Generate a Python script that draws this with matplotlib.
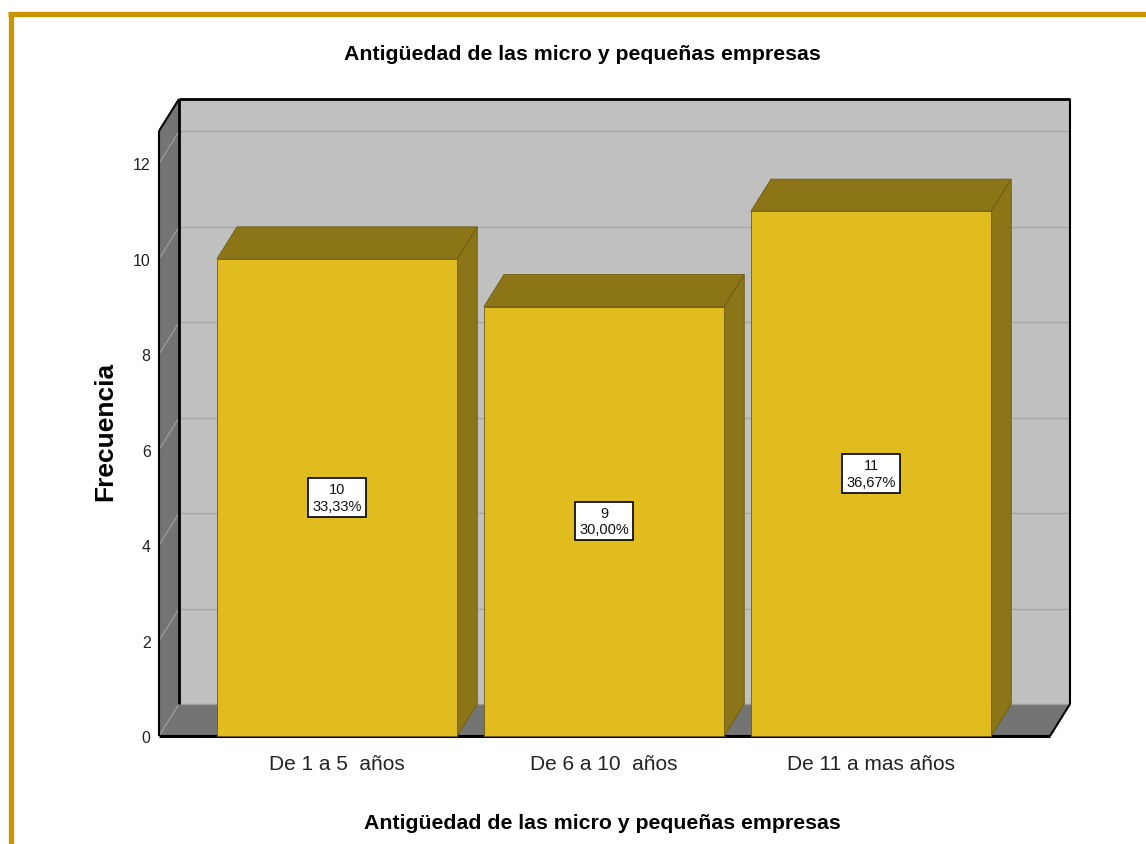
import matplotlib
matplotlib.use("Agg")
import matplotlib.pyplot as plt
from matplotlib.patches import Polygon, Rectangle
from matplotlib.lines import Line2D

plt.rcParams['font.family'] = ['Liberation Sans', 'DejaVu Sans']

# ------------------------------------------------------------------
# datos
# ------------------------------------------------------------------
categorias = ["De 1 a 5  años", "De 6 a 10  años", "De 11 a mas años"]
frecuencias = [10, 9, 11]
porcentajes = ["33,33%", "30,00%", "36,67%"]
y_ticks = [0, 2, 4, 6, 8, 10, 12]
titulo = "Antigüedad de las micro y pequeñas empresas"

# ------------------------------------------------------------------
# estilo (pseudo 3D tipo SPSS)
# ------------------------------------------------------------------
C_FRENTE = "#E0BC1F"
C_SOMBRA = "#8B7516"
C_BORDE_BARRA = "#6E5C10"
C_FONDO = "#C0C0C0"
C_PARED = "#747474"
C_GRID = "#A8A8A8"
C_MARCO = "#C89600"

XMIN, XMAX = -0.667, 2.67
YMAX = 12.68
DX, DY = 0.075, 0.671     # profundidad en unidades de datos
ANCHO = 0.9

fig = plt.figure(figsize=(11.46, 8.45), dpi=100)
ax = fig.add_axes([0.13874, 0.12781, 0.77749, 0.71598])
ax.set_xlim(XMIN, XMAX)
ax.set_ylim(0, YMAX)
ax.set_facecolor("none")
for s in ax.spines.values():
    s.set_visible(False)


def poly(pts, fc, ec="none", lw=0, z=1):
    ax.add_patch(Polygon(pts, closed=True, facecolor=fc, edgecolor=ec,
                         linewidth=lw, zorder=z, clip_on=False))


def linea(xs, ys, color="black", lw=1.5, z=3):
    ax.plot(xs, ys, color=color, lw=lw, zorder=z, clip_on=False,
            solid_capstyle="butt")


# pared del fondo
ax.add_patch(Rectangle((XMIN + DX, DY), XMAX - XMIN, YMAX, facecolor=C_FONDO,
                       edgecolor="none", zorder=0, clip_on=False))
# pared izquierda
poly([(XMIN, 0), (XMIN + DX, DY), (XMIN + DX, YMAX + DY), (XMIN, YMAX)], C_PARED)
# piso
poly([(XMIN, 0), (XMAX, 0), (XMAX + DX, DY), (XMIN + DX, DY)], C_PARED)

# rejilla
for t in y_ticks:
    if t > 0:
        linea([XMIN + DX, XMAX + DX], [t + DY, t + DY], color=C_GRID, lw=1, z=1.5)
    linea([XMIN, XMIN + DX], [t, t + DY], color="#A0A0A0", lw=0.8, z=1.5)

# bordes de la caja
linea([XMIN + DX, XMAX + DX], [YMAX + DY, YMAX + DY], lw=2)
linea([XMAX + DX, XMAX + DX], [DY, YMAX + DY], lw=1.5)
linea([XMIN + DX, XMIN + DX], [DY, YMAX + DY], lw=2)
linea([XMIN, XMIN + DX], [YMAX, YMAX + DY], lw=1.5)
linea([XMIN, XMIN], [0, YMAX], lw=1.5)
linea([XMIN, XMAX], [0, 0], lw=2.2)
linea([XMAX, XMAX + DX], [0, DY], lw=1.5)
linea([XMIN + DX, XMAX + DX], [DY, DY], color="#999999", lw=1, z=1.6)

# barras
for i, (v, p) in enumerate(zip(frecuencias, porcentajes)):
    x0, x1 = i - ANCHO / 2, i + ANCHO / 2
    poly([(x0, v), (x1, v), (x1 + DX, v + DY), (x0 + DX, v + DY)],
         C_SOMBRA, C_BORDE_BARRA, 0.6, z=4)
    poly([(x1, 0), (x1 + DX, DY), (x1 + DX, v + DY), (x1, v)],
         C_SOMBRA, C_BORDE_BARRA, 0.6, z=4)
    ax.add_patch(Rectangle((x0, 0), ANCHO, v, facecolor=C_FRENTE,
                           edgecolor=C_BORDE_BARRA, linewidth=0.6, zorder=5,
                           clip_on=False))
    ax.text(i, v / 2, f"{v}\n{p}", ha="center", va="center", fontsize=10.5,
            linespacing=1.2, zorder=6, color="#111111",
            bbox=dict(boxstyle="square,pad=0.28", facecolor="white",
                      edgecolor="black", linewidth=1.2))

# ejes
ax.set_xticks(range(len(categorias)))
ax.set_xticklabels(categorias, fontsize=15, color="#222222")
ax.set_yticks(y_ticks)
ax.set_yticklabels([str(t) for t in y_ticks], fontsize=11.5, color="#222222")
ax.tick_params(axis="x", length=0, pad=13)
ax.tick_params(axis="y", length=0, pad=6)

ax.set_ylabel("Frecuencia", fontsize=19, fontweight="bold")
ax.yaxis.set_label_coords(-0.0471, 0.505)
ax.set_xlabel(titulo, fontsize=15.3, fontweight="bold")
ax.xaxis.set_label_coords(0.498, -0.127)

fig.text(0.508, 0.935, titulo, ha="center", va="center", fontsize=15.3,
         fontweight="bold")

# marco dorado
fig.add_artist(Line2D([0.0092, 0.0092], [0, 0.9825], transform=fig.transFigure,
                      color=C_MARCO, lw=3.8, solid_capstyle="butt"))
fig.add_artist(Line2D([0.0072, 1.0], [0.9825, 0.9825], transform=fig.transFigure,
                      color=C_MARCO, lw=3.8, solid_capstyle="butt"))

fig.savefig("out.png", dpi=100)
